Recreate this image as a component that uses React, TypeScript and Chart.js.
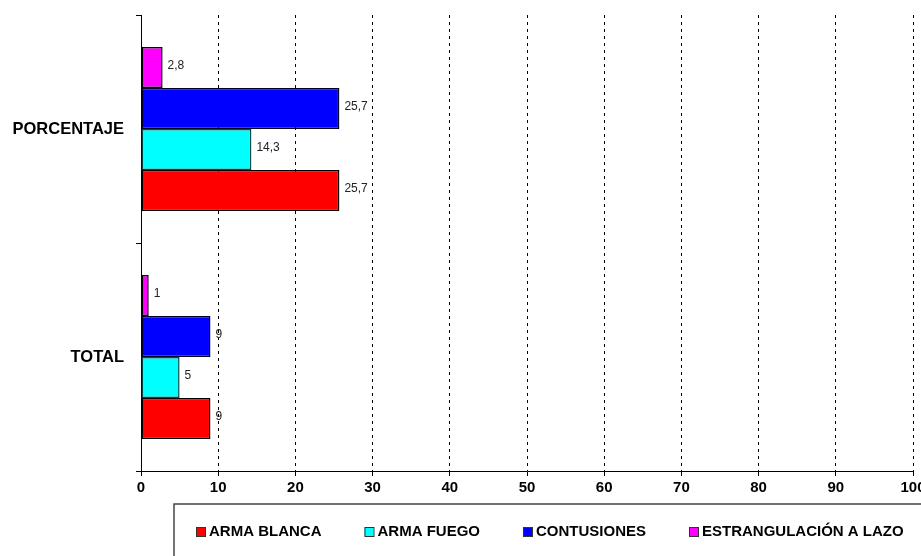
import { useEffect, useRef } from 'react';
import { Chart, registerables } from 'chart.js';

Chart.register(...registerables);

// ---- data ----
const categories = ['PORCENTAJE', 'TOTAL'];
const seriesNames = ['ARMA BLANCA', 'ARMA FUEGO', 'CONTUSIONES', 'ESTRANGULACIÓN A LAZO'];
const armaBlanca = [25.7, 9];
const armaFuego = [14.3, 5];
const contusiones = [25.7, 9];
const estrangulacion = [2.8, 1];
const xMin = 0;
const xMax = 100;
const xStep = 10;

const seriesValues = [armaBlanca, armaFuego, contusiones, estrangulacion];
const seriesColors = ['#FF0000', '#00FFFF', '#0000FF', '#FF00FF'];
const seriesBorders = ['#000000', '#004848', '#000020', '#000000'];

const FONT = '"Liberation Sans", Arial, Helvetica, sans-serif';

const fmt = (v: number) => String(v).replace('.', ',');

const valueLabels = {
  id: 'valueLabels',
  afterDatasetsDraw(chart: any) {
    const ctx = chart.ctx;
    ctx.save();
    ctx.font = `12px ${FONT}`;
    ctx.fillStyle = '#222';
    ctx.textAlign = 'left';
    ctx.textBaseline = 'middle';
    chart.data.datasets.forEach((ds: any, i: number) => {
      const meta = chart.getDatasetMeta(i);
      meta.data.forEach((el: any, j: number) => {
        ctx.fillText(fmt(ds.data[j]), el.x + 5, el.y - 2);
      });
    });
    ctx.restore();
  },
};

const boxLegend = {
  id: 'boxLegend',
  afterDraw(chart: any) {
    const ctx = chart.ctx;
    ctx.save();
    ctx.strokeStyle = '#444';
    ctx.lineWidth = 1.5;
    ctx.strokeRect(174, 504, 800, 100);
    ctx.font = `bold 15px ${FONT}`;
    ctx.textBaseline = 'middle';
    ctx.textAlign = 'left';
    let x = 196;
    const y = 532;
    seriesNames.forEach((name, i) => {
      ctx.fillStyle = seriesColors[i];
      ctx.fillRect(x, y - 5, 9, 9);
      ctx.strokeStyle = '#333';
      ctx.lineWidth = 1;
      ctx.strokeRect(x + 0.5, y - 4.5, 9, 9);
      ctx.fillStyle = '#000';
      ctx.fillText(name, x + 13, y);
      x += 13 + ctx.measureText(name).width + 43;
    });
    ctx.restore();
  },
};

export default function App() {
  const ref = useRef<HTMLCanvasElement | null>(null);

  useEffect(() => {
    if (!ref.current) return;
    // drawing order top-to-bottom within each group: reversed legend order
    const order = [3, 2, 1, 0];
    const datasets = order.map((i) => ({
      label: seriesNames[i],
      data: seriesValues[i],
      backgroundColor: seriesColors[i],
      borderColor: seriesBorders[i],
      borderWidth: 1.5,
      borderSkipped: false,
      categoryPercentage: 0.72,
      barPercentage: 1,
    }));
    const chart = new Chart(ref.current, {
      type: 'bar',
      data: { labels: categories, datasets },
      options: {
        indexAxis: 'y',
        animation: false,
        responsive: false,
        devicePixelRatio: 1,
        layout: { padding: { top: 15, right: 8, left: 0, bottom: 0 } },
        plugins: { legend: { display: false }, tooltip: { enabled: false } },
        scales: {
          x: {
            type: 'linear',
            min: xMin,
            max: xMax,
            ticks: {
              stepSize: xStep,
              color: '#000',
              font: { family: FONT, size: 15, weight: 'bold' },
              padding: 3,
              maxRotation: 0,
            },
            grid: {
              color: '#000',
              lineWidth: 1,
              drawTicks: true,
              tickLength: 5,
              tickColor: '#000',
            },
            border: { display: true, color: '#000', width: 1, dash: [3, 4] },
            afterFit(scale: any) {
              scale.height = 85;
              scale.paddingLeft = 0;
              scale.paddingRight = 0;
            },
          },
          y: {
            type: 'category',
            offset: true,
            ticks: {
              color: '#000',
              font: { family: FONT, size: 16.5, weight: 'bold' },
              padding: 12,
            },
            grid: {
              offset: true,
              drawOnChartArea: false,
              drawTicks: true,
              tickLength: 5,
              tickColor: '#000',
              color: '#000',
            },
            border: { display: true, color: '#000', width: 1 },
            afterFit(scale: any) {
              scale.width = 141;
              scale.paddingTop = 0;
              scale.paddingBottom = 0;
            },
          },
        },
      },
      plugins: [valueLabels, boxLegend],
    } as any);
    return () => chart.destroy();
  }, []);

  return (
    <div style={{ position: 'absolute', left: 0, top: 0, width: 921, height: 556, background: '#fff' }}>
      <canvas ref={ref} width={921} height={556} style={{ display: 'block' }} />
    </div>
  );
}
